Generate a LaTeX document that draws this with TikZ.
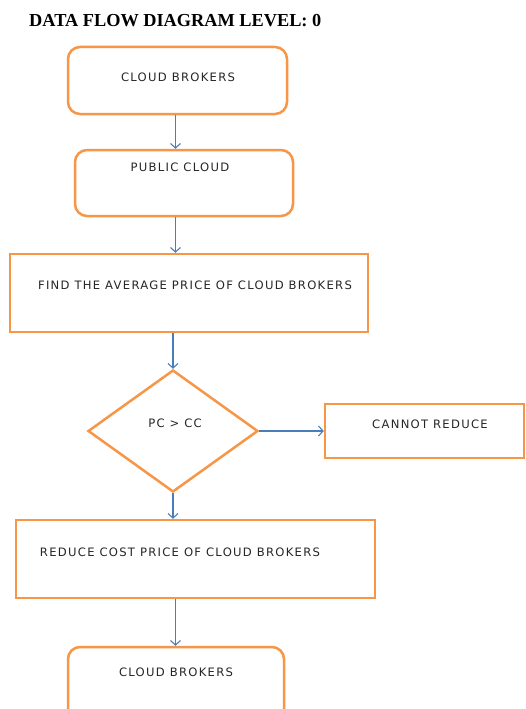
\documentclass[tikz,border=0pt]{standalone}
\usepackage{fontspec}
\setmainfont{Liberation Serif}
\newfontfamily\boxfont[LetterSpace=11]{DejaVu Sans}
\usetikzlibrary{arrows.meta,shapes.geometric}

\definecolor{dfdorange}{HTML}{F79646}
\definecolor{dfdblue}{HTML}{4A7EBB}
\definecolor{dfdtext}{HTML}{262626}

\begin{document}
\begin{tikzpicture}[x=1pt,y=-1pt,
  box/.style={draw=dfdorange, line width=2.5pt, fill=white, inner sep=0pt},
  rbox/.style={box, rounded corners=12pt},
  dec/.style={box, shape=diamond},
  lbl/.style={font=\boxfont\fontsize{11.6}{13}\selectfont, text=dfdtext, inner sep=0pt},
  flow/.style={draw=dfdblue, line width=1.1pt, -{Straight Barb[length=4.5pt,width=10pt]}}]
\useasboundingbox (0,0) rectangle (525,709);
\clip (0,0) rectangle (525,709);
\fill[white] (0,0) rectangle (525,709);

% title
\node[font=\bfseries\fontsize{18.3}{21}\selectfont, anchor=base west, inner sep=0pt] (title) at (29,27) {DATA FLOW DIAGRAM LEVEL: 0};

% boxes
\node[rbox, minimum width=219pt, minimum height=67pt] (brk) at (177.5,80.5) {};
\node[lbl] (brktxt) at (178,77) {CLOUD BROKERS};
\node[rbox, minimum width=218pt, minimum height=66pt] (pub) at (184,183) {};
\node[lbl] (pubtxt) at (180,167) {PUBLIC CLOUD};
\node[box, minimum width=358pt, minimum height=78pt] (avg) at (189,293) {};
\node[lbl] (avgtxt) at (195,285) {FIND THE AVERAGE PRICE OF CLOUD BROKERS};
\node[dec, minimum width=170pt, minimum height=122pt] (cmp) at (173,431) {};
\node[lbl] (cmptxt) at (175,423) {PC > CC};
\node[box, minimum width=199pt, minimum height=54pt] (no) at (424.5,431) {};
\node[lbl] (notxt) at (430,424) {CANNOT REDUCE};
\node[box, minimum width=359pt, minimum height=78pt] (red) at (195.5,559) {};
\node[lbl] (redtxt) at (180,552) {REDUCE COST PRICE OF CLOUD BROKERS};
\node[rbox, minimum width=216pt, minimum height=84pt] (out) at (176,689) {};
\node[lbl] (outtxt) at (176,672) {CLOUD BROKERS};

% flows
\coordinate (spine) at (175.5,0);
\draw[flow] (brk.south -| spine) -- (pub.north -| spine);
\draw[flow] (pub.south -| spine) -- (avg.north -| spine);
\draw[flow] (avg.south -| cmp.north) -- (cmp.north);
\draw[flow] (cmp.east) -- (no.west);
\draw[flow] (cmp.south) -- (red.north -| cmp.south);
\draw[flow] (red.south -| spine) -- (out.north -| spine);
\end{tikzpicture}
\end{document}
